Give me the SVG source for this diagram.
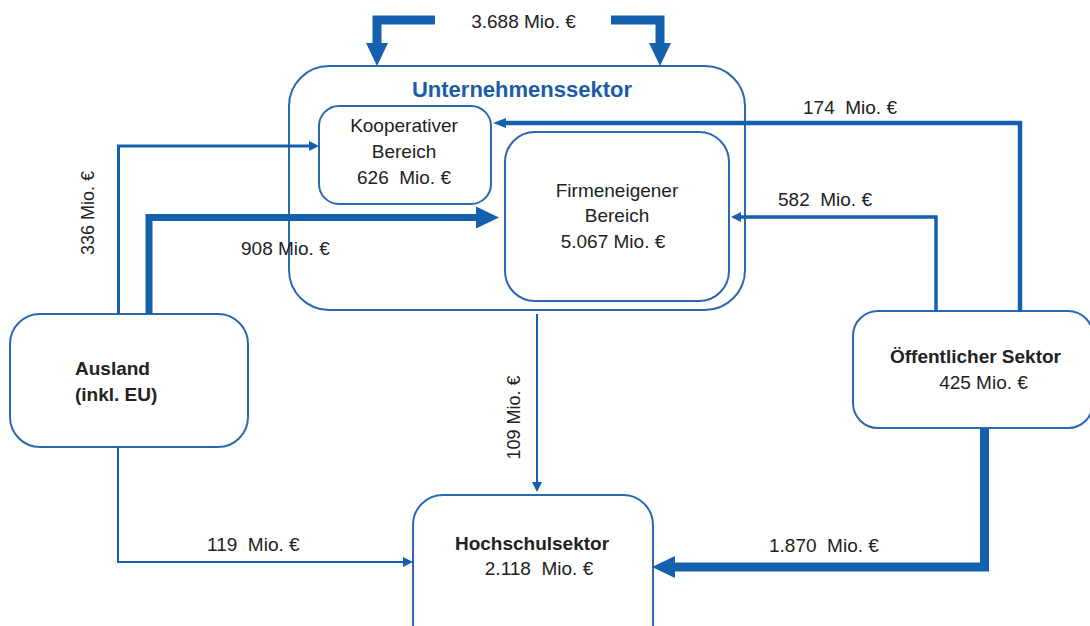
<svg xmlns="http://www.w3.org/2000/svg" width="1090" height="626" viewBox="0 0 1090 626">
<style>
  .box { fill: #ffffff; stroke: #2a68b2; stroke-width: 2; }
  .t { font-family: "Liberation Sans", Arial, sans-serif; font-size: 19px; fill: #222222; white-space: pre; }
  .r { font-size: 18px; text-anchor: middle; }
  .b { font-weight: bold; }
  .m { text-anchor: middle; }
  .title { font-family: "Liberation Sans", Arial, sans-serif; font-size: 22px; font-weight: bold; fill: #1a5ca8; text-anchor: middle; }
  .c { fill: none; stroke: #1560ac; stroke-linejoin: miter; stroke-linecap: butt; }
  .ah { fill: #1560ac; }
</style>
<defs>
  <marker id="big" markerUnits="userSpaceOnUse" markerWidth="24" markerHeight="24" viewBox="0 -12 24 24" refX="0" refY="0" orient="auto" overflow="visible">
    <path class="ah" d="M0,-11 L23,0 L0,11 Z"/>
  </marker>
  <marker id="small" markerUnits="userSpaceOnUse" markerWidth="12" markerHeight="12" viewBox="0 -6 12 12" refX="0" refY="0" orient="auto" overflow="visible">
    <path class="ah" d="M0,-5 L10,0 L0,5 Z"/>
  </marker>
  <marker id="long" markerUnits="userSpaceOnUse" markerWidth="14" markerHeight="12" viewBox="0 -6 14 12" refX="0" refY="0" orient="auto" overflow="visible">
    <path class="ah" d="M0,-5 L13,0 L0,5 Z"/>
  </marker>
</defs>

<g id="unternehmenssektor">
  <rect class="box" x="289" y="66" width="456" height="244" rx="40" ry="40"/>
  <text class="title" x="522" y="97">Unternehmenssektor</text>
</g>

<g id="kooperativer-bereich">
  <rect class="box" x="319" y="106" width="172" height="98" rx="20" ry="20"/>
  <text class="t m" x="404" y="132">Kooperativer</text>
  <text class="t m" x="404" y="158">Bereich</text>
  <text class="t m" x="404" y="184">626  Mio. €</text>
</g>

<g id="firmeneigener-bereich">
  <rect class="box" x="505" y="132" width="224" height="169" rx="30" ry="30"/>
  <text class="t m" x="617" y="197">Firmeneigener</text>
  <text class="t m" x="617" y="222">Bereich</text>
  <text class="t m" x="613" y="248">5.067 Mio. €</text>
</g>

<g id="ausland">
  <rect class="box" x="10" y="314" width="238" height="133" rx="30" ry="30"/>
  <text class="t b" x="75" y="375">Ausland</text>
  <text class="t b" x="75" y="401">(inkl. EU)</text>
</g>

<g id="oeffentlicher-sektor">
  <rect class="box" x="853" y="311" width="240" height="117" rx="25" ry="25"/>
  <text class="t b m" x="975.5" y="363">Öffentlicher Sektor</text>
  <text class="t m" x="983.5" y="389">425 Mio. €</text>
</g>

<g id="hochschulsektor">
  <rect class="box" x="413" y="495" width="240" height="160" rx="30" ry="30"/>
  <text class="t b m" x="532" y="550">Hochschulsektor</text>
  <text class="t m" x="539" y="575">2.118  Mio. €</text>
</g>

<g id="connectors">
  <path class="c" stroke-width="9" d="M435,20 H377 V43" marker-end="url(#big)"/>
  <path class="c" stroke-width="9" d="M611,20 H660 V43" marker-end="url(#big)"/>
  <text class="t m" x="523.5" y="28">3.688 Mio. €</text>

  <path class="c" stroke-width="3" d="M118.5,314 V146 H309" marker-end="url(#small)"/>
  <text class="t r" transform="translate(94,213) rotate(-90)">336 Mio. €</text>

  <path class="c" stroke-width="7" d="M149,314 V217.5 H476" marker-end="url(#big)"/>
  <text class="t" x="241" y="255">908 Mio. €</text>

  <path class="c" stroke-width="4.5" d="M1020,311 V123 H506" marker-end="url(#long)"/>
  <text class="t" x="803" y="114">174  Mio. €</text>

  <path class="c" stroke-width="3.5" d="M936,311 V217 H741" marker-end="url(#small)"/>
  <text class="t" x="778" y="206">582  Mio. €</text>

  <path class="c" stroke-width="2" d="M537,314 V482" marker-end="url(#small)"/>
  <text class="t r" transform="translate(520,417.5) rotate(-90)">109 Mio. €</text>

  <path class="c" stroke-width="2" d="M118,447 V562 H403" marker-end="url(#small)"/>
  <text class="t" x="207" y="551">119  Mio. €</text>

  <path class="c" stroke-width="9" d="M984.5,429 V567 H675" marker-end="url(#big)"/>
  <text class="t" x="769" y="552">1.870  Mio. €</text>
</g>
</svg>
